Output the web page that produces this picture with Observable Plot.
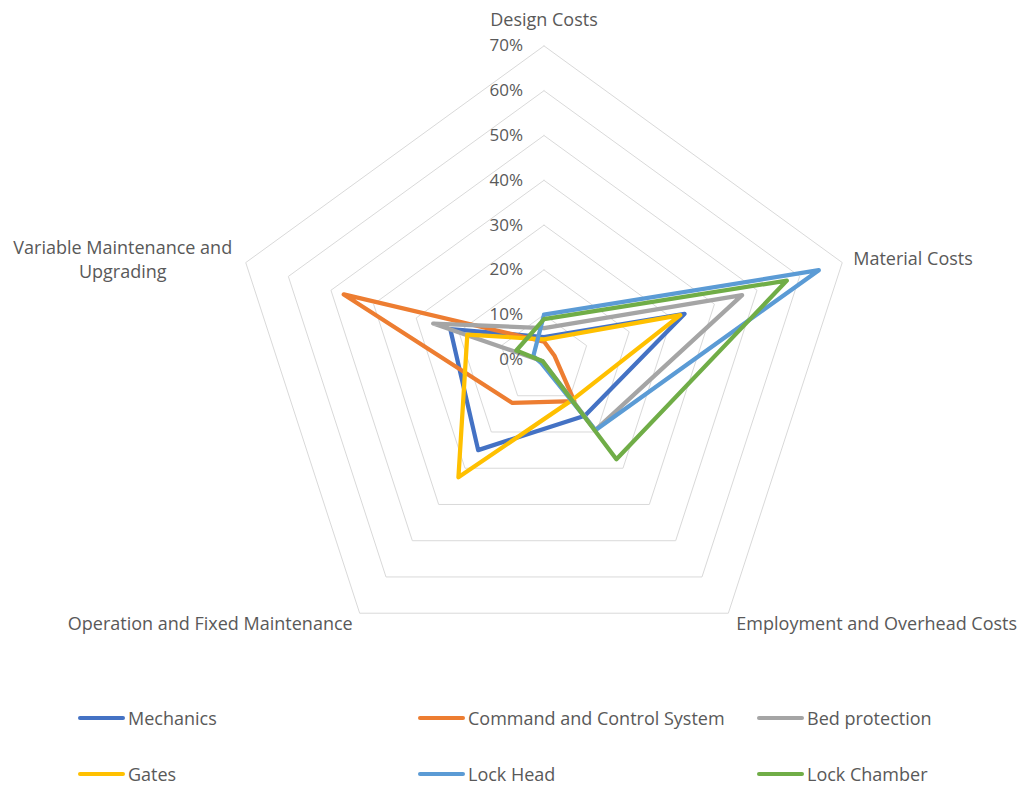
<!DOCTYPE html>
<html>
<head>
<meta charset="utf-8">
<script src="https://cdn.jsdelivr.net/npm/d3@7"></script>
<script src="https://cdn.jsdelivr.net/npm/@observablehq/plot@0.6"></script>
<style>
  html, body { margin: 0; padding: 0; background: #fff; }
  #wrap { position: relative; width: 1025px; height: 787px; font-family: "Open Sans", sans-serif; }
  #chart svg { display: block; }
  .leg { position: absolute; display: flex; align-items: center; font-size: 18px; color: #595959; white-space: nowrap; }
  .sw { width: 47px; height: 4px; border-radius: 2px; margin-right: 3px; }
</style>
</head>
<body>
<div id="wrap">
  <div id="chart"></div>
  <div id="legend"></div>
</div>
<script>
// ---- data ----
const axes = ["Design Costs", "Material Costs", "Employment and Overhead Costs", "Operation and Fixed Maintenance", "Variable Maintenance and\nUpgrading"];
const seriesNames = ["Mechanics", "Command and Control System", "Bed protection", "Gates", "Lock Head", "Lock Chamber"];
const mechanics      = [5,   33,   15.5, 25,   22];
const commandControl = [4,   2.5,  11.5, 12,   47];
const bedProtection  = [7,   46.5, 19.5, 0.5,  26];
const gates          = [4.5, 32,   11,   32.5, 18];
const lockHead       = [10,  64.5, 19.5, 1,    2.5];
const lockChamber    = [9,   57,   27.5, 0.5,  6.5];
const tickValues = [0, 10, 20, 30, 40, 50, 60, 70];
const tickLabels = ["0%", "10%", "20%", "30%", "40%", "50%", "60%", "70%"];
const colors = ["#4472C4", "#ED7D31", "#A5A5A5", "#FFC000", "#5B9BD5", "#70AD47"];

// ---- layout ----
const W = 1025, H = 690;
const cx = 543.5, cy = 359, pxPerPct = 4.48;
const maxPct = 70;
// label offsets (style)
const labelStyle = [
  {dx: 0, dy: -28, anchor: "middle"},
  {dx: 11, dy: -5, anchor: "start"},
  {dx: 8, dy: 9, anchor: "start"},
  {dx: -7, dy: 9, anchor: "end"},
  {dx: -123, dy: -4, anchor: "middle"}
];

const n = axes.length;
const ang = i => (2 * Math.PI * i) / n;
const px = (v, i) => v * Math.sin(ang(i));
const py = (v, i) => v * Math.cos(ang(i));

const allSeries = [mechanics, commandControl, bedProtection, gates, lockHead, lockChamber];
const lineData = [];
allSeries.forEach((vals, s) => {
  for (let k = 0; k <= n; k++) {
    const i = k % n;
    lineData.push({series: seriesNames[s], x: px(vals[i], i), y: py(vals[i], i)});
  }
});

const gridData = [];
tickValues.filter(t => t > 0).forEach(t => {
  for (let k = 0; k <= n; k++) {
    const i = k % n;
    gridData.push({level: t, x: px(t, i), y: py(t, i)});
  }
});

const axisLabelData = axes.map((a, i) => ({label: a, x: px(maxPct, i), y: py(maxPct, i), ...labelStyle[i]}));
const tickData = tickValues.map((t, i) => ({v: t, label: tickLabels[i]}));

const chart = Plot.plot({
  width: W,
  height: H,
  margin: 0,
  x: {domain: [-cx / pxPerPct, (W - cx) / pxPerPct], axis: null},
  y: {domain: [-(H - cy) / pxPerPct, cy / pxPerPct], axis: null},
  color: {domain: seriesNames, range: colors},
  style: {fontFamily: "Open Sans, sans-serif", background: "#fff"},
  marks: [
    Plot.line(gridData, {x: "x", y: "y", z: "level", stroke: "#D9D9D9", strokeWidth: 1}),
    Plot.line(lineData, {x: "x", y: "y", z: "series", stroke: "series", strokeWidth: 4.25, strokeLinejoin: "round", curve: "linear"}),
    Plot.text(tickData, {x: 0, y: "v", text: "label", dx: -21, textAnchor: "end", fontSize: 17, fill: "#595959"}),
    ...axisLabelData.map(d => Plot.text([d], {x: "x", y: "y", text: "label", dx: d.dx, dy: d.dy, textAnchor: d.anchor, fontSize: 18, fill: "#595959", lineHeight: 1.333}))
  ]
});
document.getElementById("chart").appendChild(chart);

// ---- legend ----
const legCols = [78, 418, 757];
const legRows = [718, 774];
const legend = document.getElementById("legend");
seriesNames.forEach((s, i) => {
  const item = document.createElement("div");
  item.className = "leg";
  item.style.left = legCols[i % 3] + "px";
  item.style.top = (legRows[Math.floor(i / 3)] - 12) + "px";
  item.style.height = "24px";
  const sw = document.createElement("div");
  sw.className = "sw";
  sw.style.background = colors[i];
  const tx = document.createElement("span");
  tx.textContent = s;
  item.appendChild(sw);
  item.appendChild(tx);
  legend.appendChild(item);
});
</script>
</body>
</html>
